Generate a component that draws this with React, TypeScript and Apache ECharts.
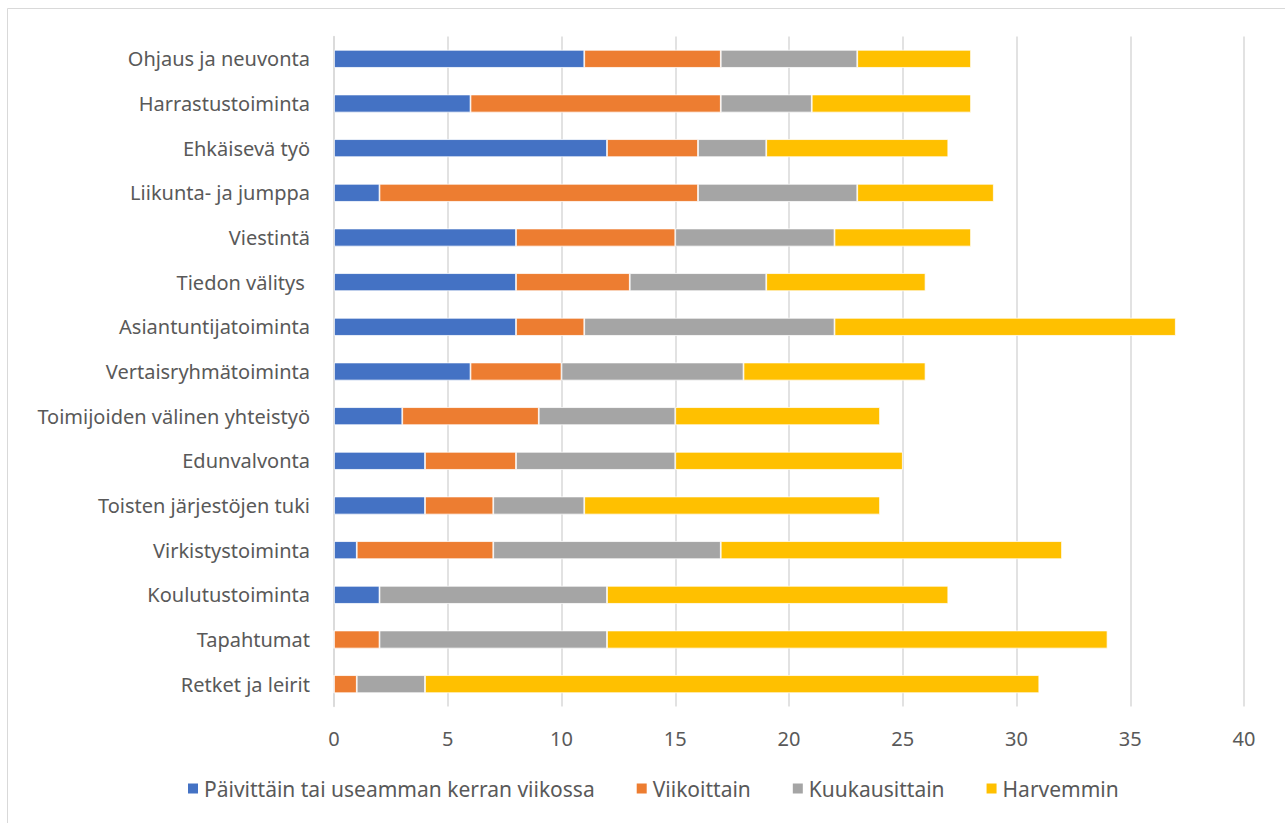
import React, { useEffect, useRef } from "react";
import * as echarts from "echarts";

const categories = [
  "Ohjaus ja neuvonta",
  "Harrastustoiminta",
  "Ehkäisevä työ",
  "Liikunta- ja jumppa",
  "Viestintä",
  "Tiedon välitys ",
  "Asiantuntijatoiminta",
  "Vertaisryhmätoiminta",
  "Toimijoiden välinen yhteistyö",
  "Edunvalvonta",
  "Toisten järjestöjen tuki",
  "Virkistystoiminta",
  "Koulutustoiminta",
  "Tapahtumat",
  "Retket ja leirit",
];

const seriesNames = [
  "Päivittäin tai useamman kerran viikossa",
  "Viikoittain",
  "Kuukausittain",
  "Harvemmin",
];

const daily = [11, 6, 12, 2, 8, 8, 8, 6, 3, 4, 4, 1, 2, 0, 0];
const weekly = [6, 11, 4, 14, 7, 5, 3, 4, 6, 4, 3, 6, 0, 2, 1];
const monthly = [6, 4, 3, 7, 7, 6, 11, 8, 6, 7, 4, 10, 10, 10, 3];
const rarely = [5, 7, 8, 6, 6, 7, 15, 8, 9, 10, 13, 15, 15, 22, 27];

const colors = ["#4472C4", "#ED7D31", "#A5A5A5", "#FFC000"];
const xTicks = [0, 5, 10, 15, 20, 25, 30, 35, 40];

const FONT = "'Noto Sans', sans-serif";
const TEXT = "#595959";

export default function App() {
  const ref = useRef<HTMLDivElement>(null);
  useEffect(() => {
    if (!ref.current) return;
    const chart = echarts.init(ref.current, null, { renderer: "svg" });
    const values = [daily, weekly, monthly, rarely];
    chart.setOption({
      animation: false,
      backgroundColor: "#ffffff",
      textStyle: { fontFamily: FONT },
      graphic: [
        {
          type: "rect",
          shape: { x: 7.5, y: 8.5, width: 1290, height: 830 },
          style: { fill: "none", stroke: "#D9D9D9", lineWidth: 1 },
          silent: true,
        },
      ],
      grid: { left: 334, right: 41, top: 36.5, bottom: 116.5, containLabel: false },
      legend: {
        left: 186,
        top: 778,
        padding: 0,
        itemWidth: 12,
        itemHeight: 12,
        itemGap: 40,
        icon: "rect",
        textStyle: { color: TEXT, fontSize: 21, fontFamily: FONT },
        data: seriesNames,
      },
      xAxis: {
        type: "value",
        min: 0,
        max: 40,
        interval: 5,
        axisLine: { show: false },
        axisTick: { show: false },
        axisLabel: {
          color: TEXT,
          fontSize: 20,
          margin: 22,
          formatter: (v: number) => (xTicks.includes(v) ? String(v) : ""),
        },
        splitLine: { show: true, lineStyle: { color: "#D9D9D9", width: 1.5 } },
      },
      yAxis: {
        type: "category",
        inverse: true,
        data: categories,
        axisLine: { show: true, lineStyle: { color: "#D9D9D9", width: 1.5 } },
        axisTick: { show: false },
        axisLabel: { color: TEXT, fontSize: 20, margin: 24 },
      },
      series: seriesNames.map((name, i) => ({
        name,
        type: "bar",
        stack: "total",
        barWidth: 18,
        data: values[i],
        itemStyle: { color: colors[i], borderColor: "#ffffff", borderWidth: 0.75 },
      })),
    });
    return () => chart.dispose();
  }, []);
  return (
    <div
      ref={ref}
      style={{ position: "fixed", left: 0, top: 0, width: 1285, height: 823 }}
    />
  );
}
